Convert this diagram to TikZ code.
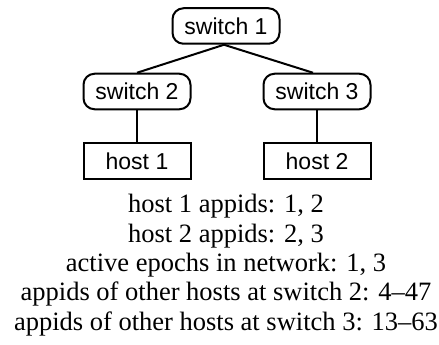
\documentclass[tikz,border=0pt]{standalone}
\usepackage{fontspec}
\setmainfont{Liberation Serif}
\newfontfamily\boxfont{Liberation Sans}
\begin{document}
\begin{tikzpicture}[x=1pt,y=1pt,
  switchbox/.style={draw, line width=2pt, rounded corners=11pt,
    minimum width=107pt, minimum height=35.5pt, inner sep=0pt,
    font=\boxfont\fontsize{23}{26}\selectfont},
  hostbox/.style={draw, line width=2pt,
    minimum width=107pt, minimum height=36pt, inner sep=0pt,
    font=\boxfont\fontsize{23}{26}\selectfont},
  link/.style={line width=2pt},
  caption/.style={anchor=base, inner sep=0pt,
    font=\fontsize{26.5}{29.5}\selectfont}]
\useasboundingbox (0,0) rectangle (439,-345);
% network tree
\node[switchbox] (s1) at (226,-26) {switch 1};
\node[switchbox] (s2) at (137,-91.5) {switch 2};
\node[switchbox] (s3) at (317,-91.5) {switch 3};
\node[hostbox] (h1) at (137,-161) {host 1};
\node[hostbox] (h2) at (317,-161) {host 2};
\draw[link] ([xshift=-2pt]s1.south) -- (s2.north);
\draw[link] ([xshift=-2pt]s1.south) -- ([xshift=-4pt]s3.north);
\draw[link] (s2.south) -- (h1.north);
\draw[link] (s3.south) -- (h2.north);
% summary lines
\node[caption] (t1) at (226,-212) {host 1 appids: 1, 2};
\node[caption] (t2) at (226,-242) {host 2 appids: 2, 3};
\node[caption] (t3) at (226,-271.5) {active epochs in network: 1, 3};
\node[caption] (t4) at (226,-300.5) {appids of other hosts at switch 2: 4--47};
\node[caption] (t5) at (226,-330) {appids of other hosts at switch 3: 13--63};
\end{tikzpicture}
\end{document}
